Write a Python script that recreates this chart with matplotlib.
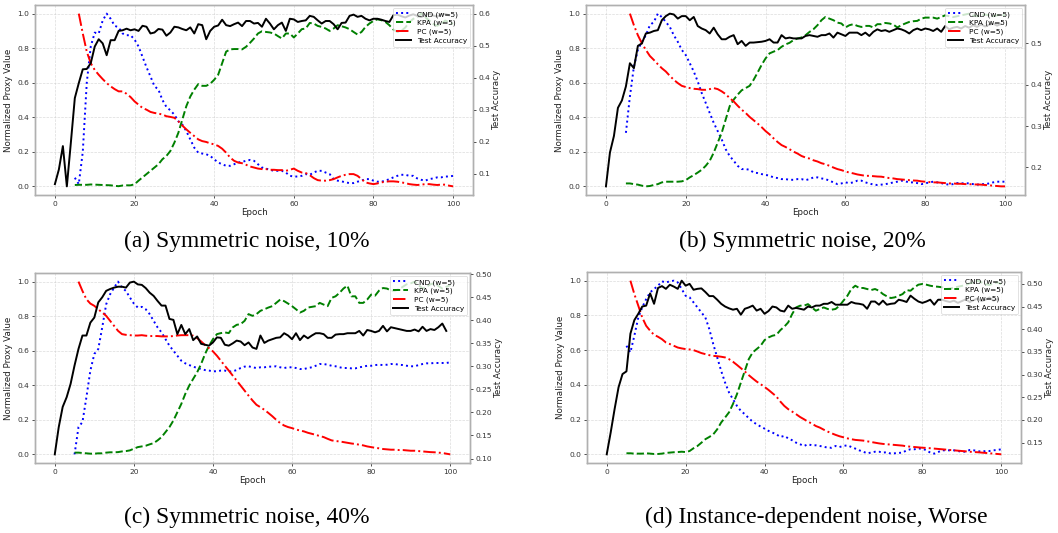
import numpy as np
import matplotlib.pyplot as plt

plt.rc('font', size=6)

# epochs
ep_acc = np.arange(0, 100)
ep_cnd = np.arange(5, 101)
ep_kpa = np.arange(5, 101)
ep_pc = np.arange(6, 101)

captions = ['(a) Symmetric noise, 10%', '(b) Symmetric noise, 20%',
            '(c) Symmetric noise, 40%', '(d) Instance-dependent noise, Worse']

# (a) symmetric 10%
acc_a = [0.067, 0.113, 0.186, 0.06, 0.196, 0.336, 0.383, 0.426, 0.427, 0.445,
         0.497, 0.52, 0.507, 0.47, 0.517, 0.517, 0.546, 0.548, 0.553, 0.548,
         0.551, 0.546, 0.562, 0.559, 0.538, 0.541, 0.552, 0.55, 0.531, 0.541,
         0.559, 0.557, 0.552, 0.548, 0.557, 0.538, 0.567, 0.564, 0.52, 0.546,
         0.559, 0.563, 0.581, 0.564, 0.561, 0.567, 0.572, 0.561, 0.577, 0.577,
         0.569, 0.571, 0.559, 0.584, 0.569, 0.551, 0.564, 0.572, 0.546, 0.584,
         0.582, 0.574, 0.577, 0.579, 0.593, 0.59, 0.579, 0.569, 0.577, 0.577,
         0.567, 0.551, 0.571, 0.572, 0.593, 0.597, 0.59, 0.593, 0.584, 0.579,
         0.584, 0.584, 0.581, 0.577, 0.574, 0.595, 0.597, 0.592, 0.588, 0.594,
         0.598, 0.593, 0.589, 0.596, 0.6, 0.594, 0.591, 0.597, 0.599, 0.595]
cnd_a = [0.05, 0.013, 0.2, 0.6, 0.81,
         0.89, 0.885, 0.96, 1.0, 0.97, 0.93, 0.92, 0.885, 0.875, 0.875,
         0.85, 0.81, 0.75, 0.69, 0.636, 0.58, 0.56, 0.5, 0.46, 0.44,
         0.415, 0.377, 0.358, 0.32, 0.272, 0.224, 0.195, 0.19, 0.186, 0.176,
         0.157, 0.138, 0.128, 0.119, 0.119, 0.128, 0.138, 0.142, 0.148, 0.153,
         0.148, 0.128, 0.109, 0.103, 0.096, 0.09, 0.09, 0.09, 0.08, 0.061,
         0.057, 0.057, 0.061, 0.071, 0.067, 0.08, 0.09, 0.09, 0.08, 0.071,
         0.042, 0.033, 0.029, 0.023, 0.019, 0.019, 0.027, 0.033, 0.042, 0.042,
         0.033, 0.027, 0.027, 0.033, 0.042, 0.052, 0.061, 0.067, 0.067, 0.061,
         0.061, 0.046, 0.038, 0.033, 0.042, 0.046, 0.052, 0.052, 0.057, 0.057, 0.061]
kpa_a = [0.008, 0.009, 0.009, 0.009, 0.011,
         0.01, 0.009, 0.008, 0.007, 0.006, 0.003, 0.001, 0.005, 0.006, 0.006,
         0.012, 0.033, 0.052, 0.071, 0.09, 0.109, 0.128, 0.157, 0.176, 0.205,
         0.253, 0.31, 0.387, 0.464, 0.52, 0.56, 0.592, 0.582, 0.582, 0.594,
         0.617, 0.646, 0.713, 0.78, 0.793, 0.795, 0.795, 0.793, 0.808, 0.831,
         0.856, 0.885, 0.898, 0.894, 0.891, 0.885, 0.87, 0.856, 0.885, 0.885,
         0.862, 0.885, 0.91, 0.914, 0.946, 0.943, 0.929, 0.923, 0.914, 0.9,
         0.914, 0.933, 0.927, 0.92, 0.91, 0.894, 0.879, 0.894, 0.923, 0.943,
         0.958, 0.967, 0.962, 0.952, 0.933, 0.908, 0.894, 0.9, 0.92, 0.95,
         0.97, 0.98, 1.0, 0.98, 0.96, 0.94, 0.93, 0.94, 0.96, 0.95, 0.94]
pc_a = [1.0, 0.885, 0.78, 0.713,
        0.674, 0.646, 0.621, 0.598, 0.579, 0.563, 0.55, 0.55, 0.536, 0.517,
        0.492, 0.473, 0.454, 0.444, 0.431, 0.425, 0.421, 0.416, 0.406, 0.402,
        0.397, 0.377, 0.352, 0.33, 0.31, 0.291, 0.272, 0.262, 0.257, 0.249,
        0.243, 0.234, 0.218, 0.195, 0.167, 0.148, 0.138, 0.134, 0.125, 0.115,
        0.109, 0.103, 0.1, 0.1, 0.096, 0.096, 0.094, 0.094, 0.09, 0.096,
        0.103, 0.09, 0.08, 0.077, 0.065, 0.048, 0.036, 0.033, 0.033, 0.036,
        0.042, 0.052, 0.061, 0.067, 0.071, 0.071, 0.061, 0.042, 0.023, 0.017,
        0.013, 0.017, 0.023, 0.027, 0.029, 0.029, 0.027, 0.023, 0.019, 0.013,
        0.01, 0.008, 0.01, 0.013, 0.013, 0.01, 0.008, 0.01, 0.01, 0.004, 0.0]

# (b) symmetric 20%
acc_b = [0.154, 0.236, 0.276, 0.344, 0.362, 0.396, 0.452, 0.44, 0.494, 0.5,
         0.524, 0.526, 0.53, 0.532, 0.556, 0.566, 0.572, 0.57, 0.56, 0.566,
         0.566, 0.556, 0.564, 0.542, 0.536, 0.532, 0.524, 0.538, 0.522, 0.51,
         0.51, 0.516, 0.52, 0.498, 0.506, 0.494, 0.502, 0.502, 0.503, 0.504,
         0.506, 0.51, 0.502, 0.502, 0.52, 0.512, 0.514, 0.512, 0.512, 0.512,
         0.518, 0.52, 0.518, 0.516, 0.52, 0.52, 0.524, 0.514, 0.526, 0.522,
         0.518, 0.526, 0.526, 0.526, 0.52, 0.526, 0.518, 0.528, 0.534, 0.53,
         0.532, 0.528, 0.532, 0.536, 0.534, 0.53, 0.524, 0.532, 0.536, 0.532,
         0.536, 0.534, 0.53, 0.536, 0.528, 0.542, 0.534, 0.538, 0.54, 0.536,
         0.542, 0.538, 0.544, 0.54, 0.546, 0.541, 0.545, 0.548, 0.543, 0.547]
cnd_b = [0.31, 0.52, 0.693, 0.79, 0.837,
         0.875, 0.933, 0.952, 1.0, 0.98, 0.952, 0.923, 0.875, 0.837, 0.79,
         0.76, 0.713, 0.665, 0.607, 0.54, 0.483, 0.425, 0.368, 0.32, 0.272,
         0.215, 0.176, 0.148, 0.119, 0.1, 0.1, 0.096, 0.08, 0.077, 0.071,
         0.067, 0.061, 0.052, 0.048, 0.042, 0.042, 0.038, 0.038, 0.042, 0.042,
         0.036, 0.042, 0.052, 0.052, 0.046, 0.042, 0.033, 0.023, 0.013, 0.017,
         0.023, 0.019, 0.023, 0.033, 0.033, 0.023, 0.017, 0.01, 0.008, 0.01,
         0.013, 0.017, 0.023, 0.027, 0.033, 0.029, 0.023, 0.023, 0.019, 0.013,
         0.017, 0.023, 0.027, 0.023, 0.019, 0.013, 0.01, 0.013, 0.019, 0.017,
         0.019, 0.017, 0.013, 0.01, 0.013, 0.013, 0.017, 0.023, 0.027, 0.027, 0.027]
kpa_b = [0.017, 0.017, 0.013, 0.01, 0.004,
         0.0, 0.002, 0.008, 0.013, 0.023, 0.027, 0.027, 0.027, 0.027, 0.029,
         0.036, 0.052, 0.065, 0.08, 0.096, 0.119, 0.148, 0.195, 0.253, 0.31,
         0.387, 0.464, 0.502, 0.531, 0.556, 0.569, 0.582, 0.617, 0.659, 0.703,
         0.741, 0.77, 0.78, 0.789, 0.808, 0.822, 0.831, 0.847, 0.856, 0.862,
         0.875, 0.894, 0.91, 0.933, 0.962, 0.981, 0.971, 0.962, 0.948, 0.943,
         0.92, 0.933, 0.939, 0.929, 0.923, 0.929, 0.929, 0.92, 0.939, 0.939,
         0.946, 0.943, 0.937, 0.92, 0.933, 0.943, 0.952, 0.956, 0.958, 0.971,
         0.977, 0.977, 0.977, 0.971, 0.981, 0.99, 0.985, 0.98, 0.985, 0.99,
         0.995, 1.0, 0.99, 0.985, 0.99, 0.995, 0.99, 0.985, 0.99, 0.995, 0.99]
pc_b = [1.0, 0.933, 0.875, 0.828,
        0.79, 0.755, 0.732, 0.707, 0.684, 0.665, 0.64, 0.617, 0.598, 0.582,
        0.575, 0.569, 0.565, 0.563, 0.559, 0.559, 0.563, 0.569, 0.563, 0.55,
        0.534, 0.511, 0.492, 0.467, 0.444, 0.425, 0.402, 0.383, 0.364, 0.343,
        0.32, 0.301, 0.278, 0.257, 0.239, 0.228, 0.215, 0.201, 0.19, 0.176,
        0.167, 0.161, 0.151, 0.144, 0.134, 0.128, 0.119, 0.109, 0.1, 0.094,
        0.086, 0.08, 0.075, 0.069, 0.065, 0.061, 0.061, 0.059, 0.057, 0.056,
        0.052, 0.048, 0.046, 0.042, 0.04, 0.038, 0.036, 0.034, 0.033, 0.029,
        0.027, 0.025, 0.023, 0.023, 0.021, 0.019, 0.017, 0.017, 0.015, 0.015,
        0.013, 0.013, 0.011, 0.011, 0.01, 0.008, 0.006, 0.004, 0.002, 0.0, 0.0]

# (c) symmetric 40%
acc_c = [0.109, 0.168, 0.212, 0.233, 0.262, 0.302, 0.338, 0.367, 0.367, 0.395,
         0.406, 0.439, 0.45, 0.464, 0.468, 0.471, 0.473, 0.473, 0.471, 0.482,
         0.484, 0.478, 0.477, 0.47, 0.46, 0.453, 0.442, 0.432, 0.432, 0.403,
         0.401, 0.37, 0.39, 0.37, 0.381, 0.357, 0.365, 0.349, 0.347, 0.345,
         0.352, 0.363, 0.362, 0.347, 0.345, 0.35, 0.356, 0.354, 0.346, 0.352,
         0.341, 0.338, 0.367, 0.351, 0.356, 0.359, 0.362, 0.363, 0.372, 0.367,
         0.359, 0.372, 0.357, 0.367, 0.361, 0.367, 0.372, 0.372, 0.37, 0.362,
         0.362, 0.369, 0.37, 0.37, 0.372, 0.372, 0.372, 0.377, 0.367, 0.379,
         0.377, 0.374, 0.377, 0.388, 0.376, 0.385, 0.383, 0.381, 0.379, 0.377,
         0.377, 0.38, 0.376, 0.386, 0.377, 0.381, 0.379, 0.385, 0.393, 0.377]
cnd_c = [0.0, 0.158, 0.187, 0.331, 0.485,
         0.581, 0.61, 0.735, 0.869, 0.927, 0.965, 1.0, 0.965, 0.946, 0.908,
         0.873, 0.85, 0.854, 0.84, 0.812, 0.773, 0.735, 0.706, 0.667, 0.629,
         0.6, 0.571, 0.542, 0.527, 0.517, 0.508, 0.5, 0.494, 0.488, 0.485,
         0.481, 0.481, 0.485, 0.485, 0.479, 0.481, 0.488, 0.5, 0.508, 0.51,
         0.504, 0.5, 0.504, 0.504, 0.508, 0.508, 0.51, 0.504, 0.5, 0.504,
         0.504, 0.5, 0.494, 0.494, 0.5, 0.504, 0.513, 0.523, 0.523, 0.519,
         0.513, 0.51, 0.504, 0.5, 0.5, 0.498, 0.498, 0.504, 0.508, 0.513,
         0.513, 0.517, 0.519, 0.517, 0.519, 0.523, 0.523, 0.519, 0.517, 0.513,
         0.51, 0.51, 0.517, 0.523, 0.527, 0.527, 0.529, 0.529, 0.529, 0.529, 0.533]
kpa_c = [0.01, 0.01, 0.008, 0.006, 0.004,
         0.004, 0.006, 0.006, 0.01, 0.012, 0.012, 0.013, 0.017, 0.019, 0.023,
         0.033, 0.042, 0.046, 0.05, 0.058, 0.065, 0.081, 0.1, 0.129, 0.158,
         0.196, 0.244, 0.292, 0.35, 0.398, 0.437, 0.475, 0.523, 0.581, 0.629,
         0.667, 0.696, 0.702, 0.706, 0.702, 0.735, 0.75, 0.754, 0.773, 0.812,
         0.802, 0.812, 0.831, 0.84, 0.85, 0.858, 0.877, 0.896, 0.887, 0.873,
         0.858, 0.84, 0.821, 0.831, 0.85, 0.854, 0.858, 0.877, 0.867, 0.858,
         0.906, 0.915, 0.935, 0.96, 0.977, 0.915, 0.915, 0.877, 0.877, 0.896,
         0.925, 0.919, 0.948, 0.963, 0.96, 0.948, 0.948, 0.955, 0.97, 0.985,
         0.99, 1.0, 0.98, 0.96, 0.97, 0.985, 0.99, 0.975, 0.96, 0.97, 0.98]
pc_c = [1.0, 0.946, 0.898, 0.873,
        0.86, 0.84, 0.821, 0.802, 0.773, 0.744, 0.715, 0.696, 0.692, 0.69,
        0.688, 0.688, 0.69, 0.687, 0.685, 0.685, 0.685, 0.683, 0.683, 0.683,
        0.685, 0.688, 0.69, 0.69, 0.69, 0.687, 0.673, 0.654, 0.633, 0.615,
        0.596, 0.571, 0.542, 0.513, 0.485, 0.456, 0.427, 0.398, 0.369, 0.34,
        0.312, 0.287, 0.273, 0.258, 0.24, 0.221, 0.2, 0.181, 0.167, 0.158,
        0.152, 0.144, 0.138, 0.133, 0.125, 0.119, 0.113, 0.106, 0.1, 0.09,
        0.081, 0.077, 0.075, 0.071, 0.067, 0.063, 0.06, 0.056, 0.052, 0.046,
        0.042, 0.038, 0.035, 0.031, 0.029, 0.027, 0.027, 0.025, 0.025, 0.023,
        0.021, 0.021, 0.019, 0.017, 0.015, 0.013, 0.012, 0.01, 0.008, 0.004, 0.0]

# (d) instance-dependent, worse
acc_d = [0.124, 0.172, 0.224, 0.272, 0.301, 0.307, 0.39, 0.42, 0.434, 0.45,
         0.452, 0.479, 0.456, 0.491, 0.495, 0.489, 0.498, 0.494, 0.489, 0.507,
         0.496, 0.5, 0.487, 0.489, 0.49, 0.482, 0.473, 0.473, 0.465, 0.456,
         0.45, 0.446, 0.443, 0.445, 0.432, 0.445, 0.448, 0.452, 0.441, 0.445,
         0.434, 0.44, 0.45, 0.448, 0.441, 0.439, 0.452, 0.445, 0.447, 0.445,
         0.443, 0.45, 0.448, 0.452, 0.452, 0.456, 0.456, 0.46, 0.454, 0.454,
         0.454, 0.454, 0.46, 0.457, 0.456, 0.454, 0.445, 0.461, 0.461, 0.454,
         0.463, 0.454, 0.456, 0.457, 0.465, 0.463, 0.46, 0.474, 0.467, 0.461,
         0.458, 0.461, 0.465, 0.454, 0.465, 0.465, 0.462, 0.46, 0.463, 0.458,
         0.462, 0.466, 0.46, 0.464, 0.468, 0.462, 0.465, 0.47, 0.463, 0.466]
cnd_d = [0.625, 0.587, 0.683, 0.788, 0.846,
         0.894, 0.933, 0.952, 0.971, 0.996, 0.99, 0.996, 1.0, 0.99, 0.952,
         0.913, 0.904, 0.875, 0.846, 0.817, 0.788, 0.721, 0.635, 0.558, 0.481,
         0.413, 0.356, 0.317, 0.279, 0.25, 0.231, 0.208, 0.188, 0.173, 0.16,
         0.148, 0.135, 0.125, 0.115, 0.1, 0.106, 0.092, 0.081, 0.067, 0.058,
         0.048, 0.058, 0.052, 0.052, 0.048, 0.044, 0.038, 0.038, 0.048, 0.042,
         0.048, 0.052, 0.042, 0.033, 0.023, 0.015, 0.006, 0.01, 0.015, 0.015,
         0.01, 0.012, 0.004, 0.006, 0.008, 0.01, 0.023, 0.029, 0.029, 0.033,
         0.033, 0.023, 0.01, 0.004, 0.013, 0.023, 0.023, 0.023, 0.023, 0.019,
         0.015, 0.015, 0.025, 0.023, 0.019, 0.015, 0.019, 0.019, 0.023, 0.025, 0.029]
kpa_d = [0.006, 0.006, 0.004, 0.004, 0.004,
         0.006, 0.004, 0.002, 0.002, 0.004, 0.008, 0.01, 0.012, 0.013, 0.015,
         0.013, 0.019, 0.035, 0.048, 0.067, 0.087, 0.1, 0.115, 0.144, 0.183,
         0.212, 0.242, 0.29, 0.346, 0.413, 0.481, 0.548, 0.587, 0.606, 0.625,
         0.658, 0.673, 0.683, 0.688, 0.715, 0.735, 0.76, 0.808, 0.846, 0.856,
         0.856, 0.865, 0.846, 0.827, 0.837, 0.846, 0.837, 0.833, 0.837, 0.856,
         0.885, 0.913, 0.952, 0.971, 0.958, 0.958, 0.952, 0.946, 0.952, 0.942,
         0.923, 0.91, 0.9, 0.904, 0.913, 0.923, 0.946, 0.942, 0.962, 0.977,
         0.981, 0.977, 0.971, 0.967, 0.965, 0.962, 0.952, 0.955, 0.96, 0.965,
         0.97, 0.975, 0.985, 0.99, 1.0, 0.99, 0.98, 0.975, 0.985, 0.99, 0.98]
pc_d = [1.0, 0.923, 0.856, 0.788,
        0.74, 0.712, 0.688, 0.677, 0.663, 0.644, 0.635, 0.625, 0.615, 0.61,
        0.606, 0.604, 0.6, 0.592, 0.583, 0.577, 0.571, 0.567, 0.565, 0.562,
        0.558, 0.548, 0.533, 0.515, 0.496, 0.477, 0.456, 0.437, 0.419, 0.404,
        0.388, 0.371, 0.352, 0.333, 0.304, 0.279, 0.26, 0.246, 0.231, 0.215,
        0.202, 0.188, 0.177, 0.163, 0.154, 0.142, 0.131, 0.121, 0.112, 0.104,
        0.098, 0.092, 0.087, 0.083, 0.081, 0.079, 0.075, 0.071, 0.067, 0.063,
        0.06, 0.058, 0.056, 0.054, 0.052, 0.05, 0.046, 0.044, 0.042, 0.04,
        0.038, 0.037, 0.035, 0.033, 0.031, 0.029, 0.027, 0.025, 0.023, 0.021,
        0.019, 0.017, 0.015, 0.013, 0.012, 0.01, 0.008, 0.006, 0.004, 0.002, 0.0]

panels = [(acc_a, cnd_a, kpa_a, pc_a), (acc_b, cnd_b, kpa_b, pc_b),
          (acc_c, cnd_c, kpa_c, pc_c), (acc_d, cnd_d, kpa_d, pc_d)]

W, H = 1058, 533
fig = plt.figure(figsize=(W / 100, H / 100), dpi=100)

# axes boxes in pixels: left, top, right, bottom
boxes = [(35, 5, 473, 195), (586, 5, 1025, 195),
         (35, 273, 470, 463), (587, 272, 1021, 463)]
cap_pos = [(247, 241), (802, 241), (247, 517), (816, 517)]

spine_c = '#b0b0b0'
for i, (acc, cnd, kpa, pc) in enumerate(panels):
    l, t, r, b = boxes[i]
    ax = fig.add_axes([l / W, 1 - b / H, (r - l) / W, (b - t) / H])
    ax2 = ax.twinx()

    l1, = ax.plot(ep_cnd, cnd, color='blue', ls=':', lw=1.4, label='CND (w=5)')
    l2, = ax.plot(ep_kpa, kpa, color='green', ls='--', lw=1.4, label='KPA (w=5)')
    l3, = ax.plot(ep_pc, pc, color='red', ls='-.', lw=1.4, label='PC (w=5)')
    l4, = ax2.plot(ep_acc, acc, color='black', ls='-', lw=1.4, label='Test Accuracy')

    ax.set_xticks([0, 20, 40, 60, 80, 100])
    ax.set_yticks([0.0, 0.2, 0.4, 0.6, 0.8, 1.0])
    ax.grid(True, ls='--', lw=0.5, color='#cccccc', alpha=0.7)
    ax.set_xlabel('Epoch', fontsize=6.3, labelpad=1, color='#222222')
    ax.set_ylabel('Normalized Proxy Value', fontsize=6.3, labelpad=3, color='#222222')
    ax2.set_ylabel('Test Accuracy', fontsize=6.3, labelpad=1.5, color='#222222')
    for a in (ax, ax2):
        a.tick_params(labelsize=5.4, length=2.5, width=0.6, pad=1.5,
                      colors='#333333')
        for s in a.spines.values():
            s.set_color(spine_c)
            s.set_linewidth(1.0)

    leg = ax2.legend(handles=[l1, l2, l3, l4], loc='upper right', fontsize=5.3,
                     borderpad=0.4, labelspacing=0.3, handlelength=2.0,
                     handletextpad=0.8, borderaxespad=0.4)
    leg.get_frame().set_linewidth(0.5)

    cx, cy = cap_pos[i]
    fig.text(cx / W, 1 - cy / H, captions[i], ha='center', va='center',
             fontsize=16.9, family='Liberation Serif')

fig.savefig('out.png', dpi=100)
